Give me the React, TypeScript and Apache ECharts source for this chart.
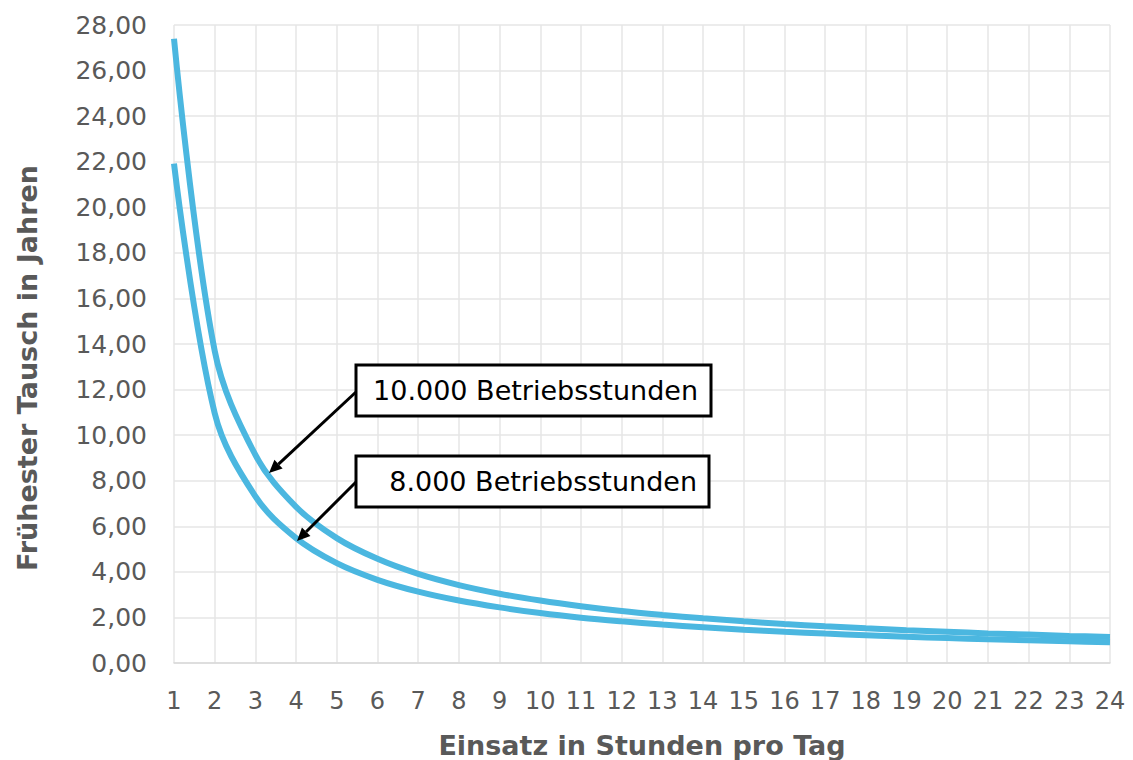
import React, { useEffect, useRef } from "react";
import * as echarts from "echarts";

const hours = ["1","2","3","4","5","6","7","8","9","10","11","12","13","14","15","16","17","18","19","20","21","22","23","24"];
const years10000 = [27.40, 13.70, 9.13, 6.85, 5.48, 4.57, 3.91, 3.42, 3.04, 2.74, 2.49, 2.28, 2.11, 1.96, 1.83, 1.71, 1.61, 1.52, 1.44, 1.37, 1.30, 1.25, 1.19, 1.14];
const years8000 = [21.92, 10.96, 7.31, 5.48, 4.38, 3.65, 3.13, 2.74, 2.44, 2.19, 1.99, 1.83, 1.69, 1.57, 1.46, 1.37, 1.29, 1.22, 1.15, 1.10, 1.04, 1.00, 0.95, 0.91];
const seriesNames = ["10.000 Betriebsstunden", "8.000 Betriebsstunden"];
const xTitle = "Einsatz in Stunden pro Tag";
const yTitle = "Frühester Tausch in Jahren";

const FONT = "DejaVu Sans";
const GRAY = "#595959";
const LINE = "#4BB7E0";

function arrow(x1: number, y1: number, x2: number, y2: number) {
  const dx = x2 - x1, dy = y2 - y1;
  const len = Math.sqrt(dx * dx + dy * dy);
  const ux = dx / len, uy = dy / len;
  const hl = 13, hw = 6;
  const bx = x2 - ux * hl, by = y2 - uy * hl;
  const px = -uy, py = ux;
  return [
    { type: "line", shape: { x1, y1, x2: bx, y2: by }, style: { stroke: "#000", lineWidth: 3 }, z: 100 },
    {
      type: "polygon",
      shape: { points: [[x2, y2], [bx + px * hw, by + py * hw], [bx - px * hw, by - py * hw]] },
      style: { fill: "#000" },
      z: 100,
    },
  ];
}

function box(x: number, y: number, w: number, h: number, text: string, textRight: number) {
  return [
    { type: "rect", shape: { x, y, width: w, height: h }, style: { fill: "#fff", stroke: "#000", lineWidth: 3 }, z: 100 },
    {
      type: "text", x: textRight, y: y + h / 2, z: 101,
      style: { text, fill: "#000", font: `27px "${FONT}"`, align: "right", verticalAlign: "middle" },
    },
  ];
}

export default function App() {
  const ref = useRef<HTMLDivElement>(null);
  useEffect(() => {
    if (!ref.current) return;
    const chart = echarts.init(ref.current, null, { renderer: "svg" });
    chart.setOption({
      animation: false,
      backgroundColor: "#fff",
      grid: { left: 174, right: 23, top: 25, bottom: 97, containLabel: false },
      xAxis: {
        type: "category",
        data: hours,
        boundaryGap: false,
        axisTick: { show: false },
        axisLine: { lineStyle: { color: "#d9d9d9", width: 1.5 } },
        axisLabel: { interval: 0, color: GRAY, fontFamily: FONT, fontSize: 24, margin: 26 },
        splitLine: { show: true, interval: 0, lineStyle: { color: "#e6e6e6", width: 1.5 } },
      },
      yAxis: {
        type: "value",
        min: 0,
        max: 28,
        interval: 2,
        axisLine: { show: false },
        axisTick: { show: false },
        axisLabel: {
          color: GRAY, fontFamily: FONT, fontSize: 25, margin: 27,
          formatter: (v: number) => v.toFixed(2).replace(".", ","),
        },
        splitLine: { lineStyle: { color: "#e6e6e6", width: 1.5 } },
      },
      series: [
        {
          name: seriesNames[0], type: "line", data: years10000, smooth: 0.35,
          showSymbol: false, lineStyle: { color: LINE, width: 6 }, z: 3,
        },
        {
          name: seriesNames[1], type: "line", data: years8000, smooth: 0.35,
          showSymbol: false, lineStyle: { color: LINE, width: 6 }, z: 3,
        },
      ],
      graphic: [
        {
          type: "text", x: 27, y: 368, rotation: Math.PI / 2, z: 50,
          style: { text: yTitle, fill: GRAY, font: `bold 27px "${FONT}"`, align: "center", verticalAlign: "middle" },
        },
        {
          type: "text", x: 642, y: 745, z: 50,
          style: { text: xTitle, fill: GRAY, font: `bold 27px "${FONT}"`, align: "center", verticalAlign: "middle" },
        },
        ...box(356, 365, 355, 51, seriesNames[0], 698),
        ...box(356, 456, 353, 51, seriesNames[1], 697),
        ...arrow(356, 392, 269, 473),
        ...arrow(356, 482, 297, 541),
      ],
    });
    return () => chart.dispose();
  }, []);
  return <div ref={ref} style={{ width: 1133, height: 760, position: "absolute", left: 0, top: 0 }} />;
}
